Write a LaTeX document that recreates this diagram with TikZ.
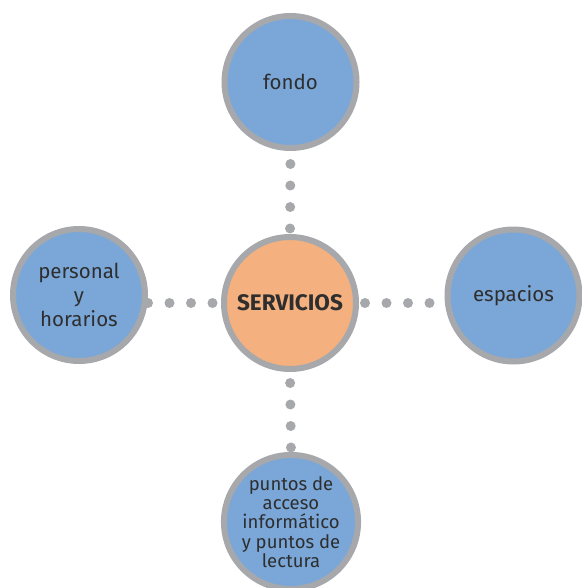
\documentclass[tikz,border=0pt]{standalone}
\usepackage{fontspec}
\setmainfont{Fira Sans}
\usetikzlibrary{backgrounds}
\definecolor{cblue}{HTML}{7AA7D8}
\definecolor{corange}{HTML}{F4B07E}
\definecolor{cgray}{HTML}{A7A8AB}
\definecolor{ctext}{HTML}{2E2E2E}
\begin{document}
\begin{tikzpicture}[x=1pt,y=-1pt,
  bubble/.style={circle,draw=cgray,line width=6pt,minimum size=132pt,inner sep=0pt,
    fill=cblue,text=ctext,align=center,font=\fontsize{20.5}{24}\selectfont},
  hub/.style={bubble,fill=corange,font=\fontsize{22.5}{24}\selectfont\bfseries},
  small/.style={font=\fontsize{18.5}{19.4}\selectfont},
  dotline/.style={draw=cgray,line width=10pt,line cap=round,dash pattern=on 0pt off 21.5pt}]
\useasboundingbox (0,0) rectangle (581,588);
\node[bubble] (top) at (290.5,82) {fondo};
\node[hub] (center) at (290,303) {SERVICIOS};
\node[bubble] (left) at (79,295) {personal\\y\\horarios};
\node[bubble] (right) at (513.5,295.5) {espacios};
\node[bubble,small] (bottom) at (291,522) {puntos de\\acceso\\informático\\y puntos de\\lectura};
\begin{pgfonlayer}{background}
\draw[dotline,shorten <=13pt] (top.south) -- (center.north);
\draw[dotline,shorten <=11pt] (center.south) -- (bottom.north);
\draw[dotline] (left.east |- center) -- (center.west);
\draw[dotline,shorten <=6pt] (center.east) -- (right.west |- center);
\end{pgfonlayer}
\end{tikzpicture}
\end{document}
